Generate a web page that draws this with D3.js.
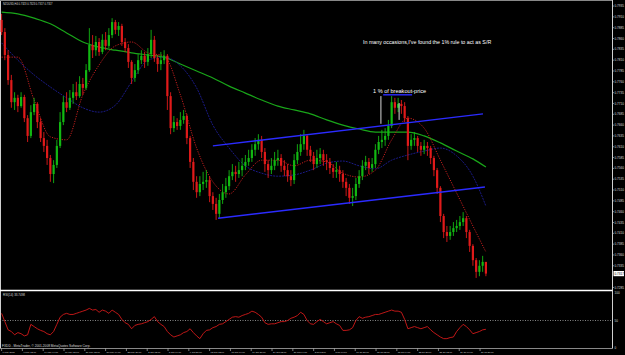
<!DOCTYPE html>
<html>
<head>
<meta charset="utf-8">
<script src="https://cdn.jsdelivr.net/npm/d3@7"></script>
<style>
  html, body { margin: 0; padding: 0; background: #000; }
  svg { display: block; font-family: "Liberation Sans", Arial, sans-serif; }
</style>
</head>
<body>
<svg id="chart" width="625" height="355"></svg>
<script>
// NZDUSD H4 candles (each drawn candle ~ 2.5 H4 bars), open = previous close
const firstOpen = 0.7903;
const closes = [
  0.7875,0.7822,0.7764,0.7713,0.7723,0.7704,0.7725,0.7676,0.7635,0.7690,
  0.7709,0.7667,0.7630,0.7612,0.7584,0.7547,0.7568,0.7612,0.7667,0.7713,
  0.7700,0.7723,0.7736,0.7727,0.7755,0.7746,0.7787,0.7845,0.7833,0.7852,
  0.7829,0.7857,0.7843,0.7868,0.7898,0.7880,0.7889,0.7852,0.7838,0.7806,
  0.7769,0.7787,0.7810,0.7820,0.7806,0.7824,0.7857,0.7815,0.7801,0.7810,
  0.7820,0.7727,0.7653,0.7667,0.7658,0.7672,0.7681,0.7630,0.7575,0.7529,
  0.7505,0.7524,0.7529,0.7533,0.7496,0.7478,0.7455,0.7487,0.7505,0.7519,
  0.7542,0.7552,0.7547,0.7556,0.7566,0.7575,0.7584,0.7603,0.7616,0.7626,
  0.7598,0.7570,0.7556,0.7566,0.7579,0.7584,0.7566,0.7556,0.7542,0.7533,
  0.7579,0.7598,0.7616,0.7635,0.7603,0.7589,0.7570,0.7584,0.7593,0.7579,
  0.7575,0.7561,0.7552,0.7556,0.7547,0.7529,0.7515,0.7492,0.7496,0.7524,
  0.7542,0.7566,0.7575,0.7561,0.7570,0.7603,0.7621,0.7626,0.7635,0.7658,
  0.7713,0.7700,0.7709,0.7704,0.7676,0.7612,0.7626,0.7630,0.7612,0.7603,
  0.7612,0.7607,0.7584,0.7556,0.7515,0.7450,0.7413,0.7404,0.7413,0.7422,
  0.7427,0.7436,0.7445,0.7413,0.7381,0.7348,0.7321,0.7335,0.7344,0.7317
];
const highs = [
  0.7917,0.7884,0.7833,0.7776,0.7736,0.7730,0.7736,0.7730,0.7683,0.7706,
  0.7723,0.7713,0.7676,0.7644,0.7626,0.7591,0.7579,0.7626,0.7690,0.7727,
  0.7736,0.7741,0.7755,0.7760,0.7773,0.7769,0.7801,0.7884,0.7868,0.7866,
  0.7861,0.7870,0.7875,0.7884,0.7907,0.7903,0.7898,0.7894,0.7861,0.7847,
  0.7810,0.7801,0.7824,0.7833,0.7829,0.7838,0.7880,0.7866,0.7822,0.7829,
  0.7833,0.7824,0.7736,0.7681,0.7676,0.7690,0.7695,0.7686,0.7635,0.7584,
  0.7542,0.7542,0.7552,0.7556,0.7542,0.7505,0.7492,0.7501,0.7524,0.7538,
  0.7556,0.7570,0.7566,0.7575,0.7584,0.7591,0.7603,0.7616,0.7630,0.7639,
  0.7635,0.7607,0.7579,0.7584,0.7598,0.7603,0.7593,0.7579,0.7570,0.7556,
  0.7593,0.7616,0.7639,0.7649,0.7639,0.7612,0.7598,0.7603,0.7607,0.7603,
  0.7593,0.7584,0.7570,0.7575,0.7566,0.7556,0.7538,0.7524,0.7515,0.7538,
  0.7556,0.7579,0.7589,0.7584,0.7584,0.7616,0.7635,0.7649,0.7653,0.7672,
  0.7727,0.7723,0.7723,0.7718,0.7713,0.7681,0.7639,0.7644,0.7635,0.7621,
  0.7626,0.7621,0.7612,0.7589,0.7561,0.7519,0.7455,0.7427,0.7427,0.7436,
  0.7441,0.7450,0.7459,0.7450,0.7418,0.7385,0.7353,0.7348,0.7358,0.7344
];
const lows = [
  0.7868,0.7810,0.7753,0.7700,0.7695,0.7690,0.7700,0.7667,0.7621,0.7630,
  0.7683,0.7653,0.7621,0.7598,0.7568,0.7529,0.7526,0.7561,0.7607,0.7660,
  0.7690,0.7695,0.7709,0.7718,0.7723,0.7730,0.7741,0.7783,0.7815,0.7820,
  0.7820,0.7824,0.7833,0.7838,0.7861,0.7870,0.7866,0.7843,0.7829,0.7792,
  0.7755,0.7760,0.7778,0.7801,0.7792,0.7797,0.7815,0.7806,0.7783,0.7787,
  0.7801,0.7695,0.7639,0.7644,0.7649,0.7649,0.7663,0.7616,0.7561,0.7510,
  0.7492,0.7496,0.7510,0.7515,0.7482,0.7464,0.7441,0.7445,0.7478,0.7492,
  0.7510,0.7533,0.7529,0.7538,0.7542,0.7556,0.7566,0.7575,0.7589,0.7603,
  0.7584,0.7552,0.7538,0.7547,0.7556,0.7566,0.7552,0.7542,0.7529,0.7519,
  0.7524,0.7570,0.7589,0.7603,0.7589,0.7575,0.7556,0.7561,0.7570,0.7566,
  0.7556,0.7547,0.7538,0.7538,0.7529,0.7515,0.7496,0.7478,0.7473,0.7487,
  0.7515,0.7533,0.7556,0.7547,0.7552,0.7561,0.7593,0.7607,0.7612,0.7626,
  0.7653,0.7686,0.7690,0.7686,0.7667,0.7579,0.7603,0.7612,0.7598,0.7589,
  0.7593,0.7589,0.7570,0.7542,0.7501,0.7436,0.7399,0.7390,0.7395,0.7404,
  0.7413,0.7418,0.7427,0.7399,0.7367,0.7335,0.7307,0.7311,0.7321,0.7311
];

// moving averages, read every 5th candle
const maIndex = [0,5,10,15,20,25,30,35,40,45,50,55,60,65,70,75,80,85,90,95,100,105,110,115,120,125,130,135,140,145,149];
const maGreen = [0.7921,0.7917,0.7907,0.7894,0.7873,0.7852,0.7840,0.7833,0.7827,0.7822,0.7817,0.7801,0.7785,0.7769,0.7750,0.7734,0.7718,0.7704,0.7695,0.7686,0.7672,0.7660,0.7651,0.7644,0.7644,0.7644,0.7635,0.7619,0.7600,0.7582,0.7563];
const maNavy = [0.7850,0.7810,0.7776,0.7748,0.7723,0.7700,0.7690,0.7706,0.7760,0.7810,0.7817,0.7797,0.7746,0.7660,0.7607,0.7566,0.7549,0.7542,0.7545,0.7556,0.7572,0.7577,0.7566,0.7559,0.7579,0.7591,0.7600,0.7607,0.7589,0.7542,0.7473];
const maRed = [0.7817,0.7817,0.7718,0.7633,0.7626,0.7730,0.7799,0.7843,0.7852,0.7827,0.7820,0.7730,0.7607,0.7529,0.7501,0.7545,0.7579,0.7579,0.7566,0.7579,0.7575,0.7549,0.7540,0.7556,0.7626,0.7676,0.7653,0.7579,0.7503,0.7427,0.7367];

// RSI(14), one value per candle
const rsi = [
  63,48,33,30,24,28,26,22,24,43, 39,35,32,30,26,24,30,43,56,61,
  63,61,61,63,65,67,69,72,69,70, 65,69,67,63,69,65,61,52,46,43,
  35,41,43,44,46,48,52,57,48,43, 39,30,24,20,22,24,28,30,35,28,
  22,17,26,32,33,37,39,43,44,48, 52,56,57,56,59,61,63,67,65,61,
  56,46,43,44,44,46,48,48,50,54, 56,59,65,61,50,44,43,48,52,48,
  44,46,48,44,41,32,32,33,37,50, 57,54,56,57,59,61,61,63,65,67,
  69,67,67,65,52,35,37,39,37,35, 37,39,33,28,24,20,17,17,19,20,
  30,37,43,39,33,26,28,30,33,34
];

// drawn objects: channel lines and the 1% marker
const trendLines = [
  { i1: 65.0, p1: 0.7612, i2: 148.1, p2: 0.7686 },
  { i1: 66.6, p1: 0.7445, i2: 148.7, p2: 0.7517 },
  { i1: 117.4, p1: 0.7730, i2: 126.3, p2: 0.7730 }
];
const markerLines = [
  { i: 116.7, p1: 0.7727, p2: 0.7663 },
  { i: 122.3, p1: 0.7711, p2: 0.7672 }
];

const priceTicks = [0.7935,0.7910,0.7885,0.7860,0.7835,0.7810,0.7785,0.7760,0.7735,0.7710,0.7685,0.7660,0.7635,0.7610,0.7585,0.7560,0.7535,0.7510,0.7485,0.7460,0.7435,0.7410,0.7385,0.7360,0.7335,0.7310,0.7285];
const rsiTicks = [100, 50, 0];
const dateLabels = ["6 May 2008","9 May 12:00","14 May 04:00","16 May 20:00","21 May 12:00","26 May 04:00","28 May 20:00","2 Jun 12:00","5 Jun 04:00","9 Jun 20:00","12 Jun 12:00","17 Jun 04:00","19 Jun 20:00","24 Jun 12:00","27 Jun 04:00","3 Jul 12:00","8 Jul 04:00","10 Jul 20:00","15 Jul 12:00","18 Jul 04:00","22 Jul 20:00","25 Jul 12:00","29 Jul 04:00","31 Jul 20:00"];
const dateStep = 6.4; // candles between date labels
const lastPrice = 0.7317;

const W = 625, H = 355;
const axisX = 612.5;
const svg = d3.select("#chart");

const x = d3.scaleLinear().domain([0, 149]).range([1.6, 485.9]);
const y = d3.scaleLinear().domain([0.7949, 0.72791]).range([0, 290]);
const yRsi = d3.scaleLinear().domain([0, 100]).range([348, 293]);

svg.append("rect").attr("width", W).attr("height", H).attr("fill", "#000");

// frame
const frame = svg.append("g").attr("stroke", "#d0d0d0").attr("fill", "none");
frame.append("line").attr("x1", 0.5).attr("x2", 0.5).attr("y1", 0).attr("y2", 348.5).attr("stroke-width", 1);
frame.append("line").attr("x1", 0).attr("x2", axisX).attr("y1", 0.5).attr("y2", 0.5).attr("stroke", "#888");
frame.append("line").attr("x1", axisX).attr("x2", axisX).attr("y1", 0).attr("y2", 348.5);
frame.append("line").attr("x1", 0).attr("x2", axisX).attr("y1", 290.5).attr("y2", 290.5).attr("stroke", "#fff").attr("stroke-width", 1.5);
frame.append("line").attr("x1", 0).attr("x2", axisX).attr("y1", 348.5).attr("y2", 348.5).attr("stroke", "#888");

const main = svg.append("g");

// moving averages
const maLine = vals => d3.line()
  .x(d => x(d))
  .y((d, k) => y(vals[k]))
  .curve(d3.curveMonotoneX)(maIndex);

main.append("path").attr("d", maLine(maGreen))
  .attr("fill", "none").attr("stroke", "#19a619").attr("stroke-width", 1.2);
main.append("path").attr("d", maLine(maNavy))
  .attr("fill", "none").attr("stroke", "#1a1a85").attr("stroke-width", 1).attr("stroke-dasharray", "2,1");
main.append("path").attr("d", maLine(maRed))
  .attr("fill", "none").attr("stroke", "#c41e1e").attr("stroke-width", 1).attr("stroke-dasharray", "1.2,1.3");

// candles
const candles = closes.map((c, i) => ({
  i, open: i ? closes[i - 1] : firstOpen, high: highs[i], low: lows[i], close: c
}));
const candleColor = d => d.close >= d.open ? "#12b812" : "#e01a1a";

const cg = main.append("g").selectAll("g").data(candles).join("g");
cg.append("line")
  .attr("x1", d => x(d.i)).attr("x2", d => x(d.i))
  .attr("y1", d => y(d.high)).attr("y2", d => y(d.low))
  .attr("stroke", candleColor).attr("stroke-width", 0.9);
cg.append("rect")
  .attr("x", d => x(d.i) - 1.1)
  .attr("width", 2.2)
  .attr("y", d => y(Math.max(d.open, d.close)))
  .attr("height", d => Math.max(0.8, Math.abs(y(d.open) - y(d.close))))
  .attr("fill", candleColor);

// channel lines
main.selectAll(".trend").data(trendLines).join("line")
  .attr("class", "trend")
  .attr("x1", d => x(d.i1)).attr("y1", d => y(d.p1))
  .attr("x2", d => x(d.i2)).attr("y2", d => y(d.p2))
  .attr("stroke", "#2b2bff").attr("stroke-width", 1.4);

main.selectAll(".marker").data(markerLines).join("line")
  .attr("class", "marker")
  .attr("x1", d => x(d.i)).attr("x2", d => x(d.i))
  .attr("y1", d => y(d.p1)).attr("y2", d => y(d.p2))
  .attr("stroke", "#d8d8d8").attr("stroke-width", 1);

// annotations
main.append("text").attr("x", 363).attr("y", 43.5)
  .attr("fill", "#fff").attr("font-size", 5.3)
  .text("In many occasions,I've found the 1% rule to act as S/R");
main.append("text").attr("x", 373).attr("y", 92.5)
  .attr("fill", "#fff").attr("font-size", 5.6)
  .text("1 % of breakout-price");

// title
svg.append("text").attr("x", 3).attr("y", 5)
  .attr("fill", "#ddd").attr("font-size", 2.6)
  .text("NZDUSD,H4  0.7323 0.7323 0.7317 0.7317");

// RSI pane
const rsiG = svg.append("g");
rsiG.append("line").attr("x1", 0).attr("x2", axisX)
  .attr("y1", yRsi(50)).attr("y2", yRsi(50))
  .attr("stroke", "#bbb").attr("stroke-width", 0.7).attr("stroke-dasharray", "1,1.5");
rsiG.append("path")
  .attr("d", d3.line().x((d, i) => x(i)).y(d => yRsi(d))(rsi))
  .attr("fill", "none").attr("stroke", "#d21a1a").attr("stroke-width", 0.9);
rsiG.append("text").attr("x", 3).attr("y", 295.5)
  .attr("fill", "#ddd").attr("font-size", 3.0).text("RSI(14) 33.7498");
rsiG.append("text").attr("x", 2).attr("y", 346.5)
  .attr("fill", "#ddd").attr("font-size", 3.2)
  .text("FXDD - MetaTrader, © 2001-2008 MetaQuotes Software Corp.");

// price axis
const yAxisG = svg.append("g");
const shownTicks = priceTicks.filter(p => Math.abs(y(p) - y(lastPrice)) > 5);
yAxisG.selectAll("line").data(shownTicks).join("line")
  .attr("x1", axisX).attr("x2", axisX + 1.5)
  .attr("y1", d => y(d)).attr("y2", d => y(d))
  .attr("stroke", "#ccc").attr("stroke-width", 0.6);
yAxisG.selectAll("text").data(shownTicks).join("text")
  .attr("x", 614.5).attr("y", d => y(d) + 1.1)
  .attr("fill", "#ddd").attr("font-size", 3.1)
  .text(d => d3.format(".4f")(d));

yAxisG.append("rect").attr("x", 613.5).attr("y", y(lastPrice) - 2.6)
  .attr("width", 10.5).attr("height", 5.2).attr("fill", "#fff");
yAxisG.append("text").attr("x", 614.5).attr("y", y(lastPrice) + 1.1)
  .attr("fill", "#000").attr("font-size", 3.1).text(d3.format(".4f")(lastPrice));

// RSI axis labels
svg.append("g").selectAll("text").data(rsiTicks).join("text")
  .attr("x", 614.5).attr("y", d => yRsi(d) + 1.1)
  .attr("fill", "#ddd").attr("font-size", 3.1)
  .text(d => d);

// date axis
const dateG = svg.append("g").selectAll("g").data(dateLabels).join("g")
  .attr("transform", (d, k) => `translate(${x(k * dateStep)},0)`);
dateG.append("line").attr("x1", 0).attr("x2", 0).attr("y1", 348.5).attr("y2", 351)
  .attr("stroke", "#ccc").attr("stroke-width", 0.6);
dateG.append("text").attr("x", 1).attr("y", 353.2)
  .attr("fill", "#ddd").attr("font-size", 2.3)
  .text(d => d);
</script>
</body>
</html>
